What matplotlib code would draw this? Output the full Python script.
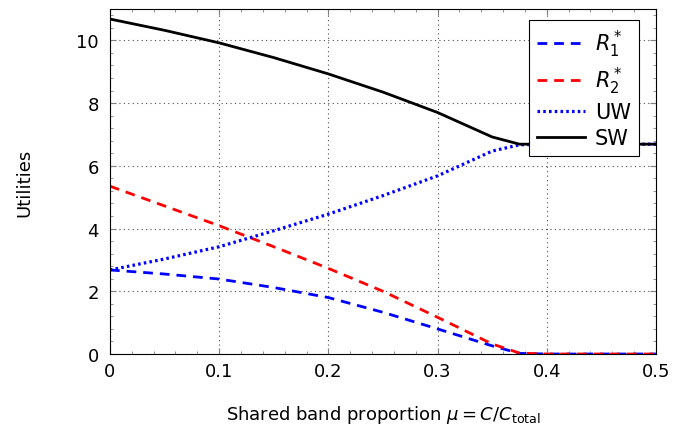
import matplotlib
matplotlib.use("Agg")
import matplotlib.pyplot as plt
from matplotlib.ticker import AutoMinorLocator

# data
mu = [0, 0.05, 0.1, 0.15, 0.2, 0.25, 0.3, 0.35, 0.375, 0.4, 0.45, 0.5]
r1 = [2.68, 2.55, 2.39, 2.12, 1.80, 1.33, 0.80, 0.26, 0.02, 0.0, 0.0, 0.0]
r2 = [5.35, 4.72, 4.09, 3.42, 2.73, 2.00, 1.17, 0.32, 0.03, 0.0, 0.0, 0.0]
uw = [2.68, 3.03, 3.42, 3.93, 4.46, 5.05, 5.68, 6.47, 6.67, 6.69, 6.69, 6.69]
sw = [10.68, 10.32, 9.92, 9.45, 8.93, 8.35, 7.70, 6.92, 6.69, 6.69, 6.69, 6.69]

xticks = [0, 0.1, 0.2, 0.3, 0.4, 0.5]
xticklabels = ["0", "0.1", "0.2", "0.3", "0.4", "0.5"]
yticks = [0, 2, 4, 6, 8, 10]

plt.rcParams['font.family'] = ['DejaVu Sans']
plt.rcParams['mathtext.fontset'] = 'dejavusans'

fig = plt.figure(figsize=(6.73, 4.27), dpi=100)
ax = fig.add_axes([0.1634, 0.1686, 0.8113, 0.808])

ax.plot(mu, r1, color='blue', ls=(0, (3.5, 2.5)), lw=2, label=r'$R_1^*$')
ax.plot(mu, r2, color='red', ls=(0, (3.5, 2.5)), lw=2, label=r'$R_2^*$')
ax.plot(mu, uw, color='blue', ls=(0, (0.8, 1.0)), lw=2.3, label='UW')
ax.plot(mu, sw, color='black', ls='-', lw=2, label='SW')

ax.set_xlim(0, 0.5)
ax.set_ylim(0, 11)
ax.set_xticks(xticks)
ax.set_xticklabels(xticklabels)
ax.set_yticks(yticks)
ax.xaxis.set_minor_locator(AutoMinorLocator(5))
ax.yaxis.set_minor_locator(AutoMinorLocator(5))
ax.tick_params(which='both', direction='in', top=True, right=True, color='gray',
               labelsize=13)
ax.tick_params(which='major', length=4)
ax.tick_params(which='minor', length=2)
ax.tick_params(axis='y', pad=8)
ax.tick_params(axis='x', pad=6)
ax.grid(True, which='major', ls=(0, (1, 3)), color='0.3', lw=0.8)

ax.set_xlabel(r'Shared band proportion $\mu = C/C_{\mathrm{total}}$', fontsize=13, labelpad=16)
ax.set_ylabel('Utilities', fontsize=13, labelpad=31)

leg = ax.legend(loc='upper right', bbox_to_anchor=(0.969, 0.969), borderaxespad=0,
                fontsize=15, fancybox=False, framealpha=1, edgecolor='black',
                handlelength=2.3, handletextpad=0.45, labelspacing=0.28,
                borderpad=0.4)
leg.get_frame().set_linewidth(0.8)

plt.savefig("out.png", dpi=100)
